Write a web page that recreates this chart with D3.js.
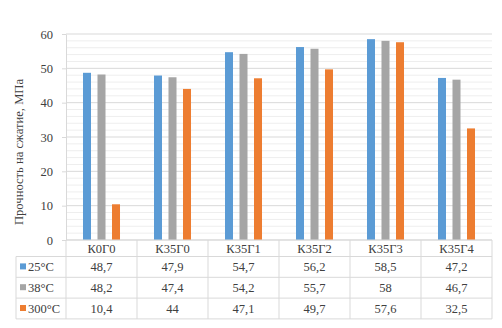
<!DOCTYPE html>
<html>
<head>
<meta charset="utf-8">
<script src="https://cdn.jsdelivr.net/npm/d3@7"></script>
<style>
  html, body { margin: 0; padding: 0; background: #fff; }
  svg { display: block; }
  text { font-family: "Liberation Serif", "Times New Roman", serif; fill: #404040; }
</style>
</head>
<body>
<svg id="chart" width="502" height="328"></svg>
<script>
// Compressive strength of mixes at different curing temperatures
const categories = ["К0Г0", "К35Г0", "К35Г1", "К35Г2", "К35Г3", "К35Г4"];
const seriesNames = ["25°C", "38°C", "300°C"];
const values25 = [48.7, 47.9, 54.7, 56.2, 58.5, 47.2];
const values38 = [48.2, 47.4, 54.2, 55.7, 58, 46.7];
const values300 = [10.4, 44, 47.1, 49.7, 57.6, 32.5];
const valueLabels25 = ["48,7", "47,9", "54,7", "56,2", "58,5", "47,2"];
const valueLabels38 = ["48,2", "47,4", "54,2", "55,7", "58", "46,7"];
const valueLabels300 = ["10,4", "44", "47,1", "49,7", "57,6", "32,5"];
const yTicks = [0, 10, 20, 30, 40, 50, 60];
const yTitle = "Прочность на сжатие, МПа";

const colors = ["#5b9bd5", "#a5a5a5", "#ed7d31"];
const seriesValues = [values25, values38, values300];
const seriesLabels = [valueLabels25, valueLabels38, valueLabels300];

const svg = d3.select("#chart");

const plot = { left: 66, right: 492, top: 34, bottom: 240 };
const table = { left: 16, header: 16.5, rowH: 20.8 };

const x = d3.scaleBand().domain(categories).range([plot.left, plot.right]).padding(0);
const x1 = d3.scaleBand().domain(seriesNames).range([0, x.bandwidth()])
  .paddingInner(0.448).paddingOuter(1.172);
const y = d3.scaleLinear().domain([0, 60]).range([plot.bottom, plot.top]);

// minor gridlines
svg.append("g").selectAll("line")
  .data(d3.range(0, 61, 2).filter(v => v % 10 !== 0))
  .join("line")
  .attr("x1", plot.left).attr("x2", plot.right)
  .attr("y1", d => y(d)).attr("y2", d => y(d))
  .attr("stroke", "#eeeeee").attr("stroke-width", 1);

// major gridlines
svg.append("g").selectAll("line")
  .data(yTicks)
  .join("line")
  .attr("x1", plot.left).attr("x2", plot.right)
  .attr("y1", d => y(d)).attr("y2", d => y(d))
  .attr("stroke", "#d9d9d9").attr("stroke-width", 1);

// y axis
const yAxis = d3.axisLeft(y).tickValues(yTicks).tickSize(4).tickSizeOuter(0).tickPadding(9);
const yg = svg.append("g").attr("transform", `translate(${plot.left},0)`).call(yAxis);
yg.select(".domain").attr("stroke", "#d9d9d9");
yg.selectAll(".tick line").attr("stroke", "#d9d9d9");
yg.selectAll("text").style("font-size", "12.5px").attr("fill", "#404040");

// y axis title
svg.append("text")
  .attr("transform", `translate(23,152) rotate(-90)`)
  .attr("text-anchor", "middle")
  .style("font-size", "12.6px")
  .text(yTitle);

// bars
const groups = svg.append("g").selectAll("g")
  .data(categories)
  .join("g")
  .attr("transform", d => `translate(${x(d)},0)`);

groups.selectAll("rect")
  .data((d, i) => seriesNames.map((s, j) => ({ s, v: seriesValues[j][i], c: colors[j] })))
  .join("rect")
  .attr("x", d => x1(d.s))
  .attr("width", x1.bandwidth())
  .attr("y", d => y(d.v))
  .attr("height", d => y(0) - y(d.v))
  .attr("fill", d => d.c);

// data table
const gridColor = "#d9d9d9";
const rowTop = i => plot.bottom + table.header + i * table.rowH;
const tableBottom = rowTop(seriesNames.length);
const tg = svg.append("g");

// horizontal rules
tg.append("line").attr("x1", plot.left).attr("x2", plot.right)
  .attr("y1", plot.bottom).attr("y2", plot.bottom).attr("stroke", gridColor);
for (let i = 0; i <= seriesNames.length; i++) {
  tg.append("line").attr("x1", table.left).attr("x2", plot.right)
    .attr("y1", rowTop(i)).attr("y2", rowTop(i)).attr("stroke", gridColor);
}
// vertical rules
tg.append("line").attr("x1", table.left).attr("x2", table.left)
  .attr("y1", rowTop(0)).attr("y2", tableBottom).attr("stroke", gridColor);
categories.forEach(c => {
  tg.append("line").attr("x1", x(c)).attr("x2", x(c))
    .attr("y1", plot.bottom).attr("y2", tableBottom).attr("stroke", gridColor);
});
tg.append("line").attr("x1", plot.right).attr("x2", plot.right)
  .attr("y1", plot.bottom).attr("y2", tableBottom).attr("stroke", gridColor);

// category headers
tg.selectAll("text.cat")
  .data(categories)
  .join("text")
  .attr("class", "cat")
  .attr("x", d => x(d) + x.bandwidth() / 2)
  .attr("y", plot.bottom + table.header / 2 + 4.5)
  .attr("text-anchor", "middle")
  .style("font-size", "12.5px")
  .text(d => d);

// legend keys and values
seriesNames.forEach((s, j) => {
  const cy = rowTop(j) + table.rowH / 2;
  tg.append("rect").attr("x", table.left + 4).attr("y", cy - 3.5)
    .attr("width", 6).attr("height", 6).attr("fill", colors[j]);
  tg.append("text").attr("x", table.left + 12).attr("y", cy + 4.5)
    .style("font-size", "12.5px").text(s);
  tg.selectAll(null)
    .data(categories)
    .join("text")
    .attr("x", d => x(d) + x.bandwidth() / 2)
    .attr("y", cy + 4.5)
    .attr("text-anchor", "middle")
    .style("font-size", "12.5px")
    .text((d, i) => seriesLabels[j][i]);
});
</script>
</body>
</html>
